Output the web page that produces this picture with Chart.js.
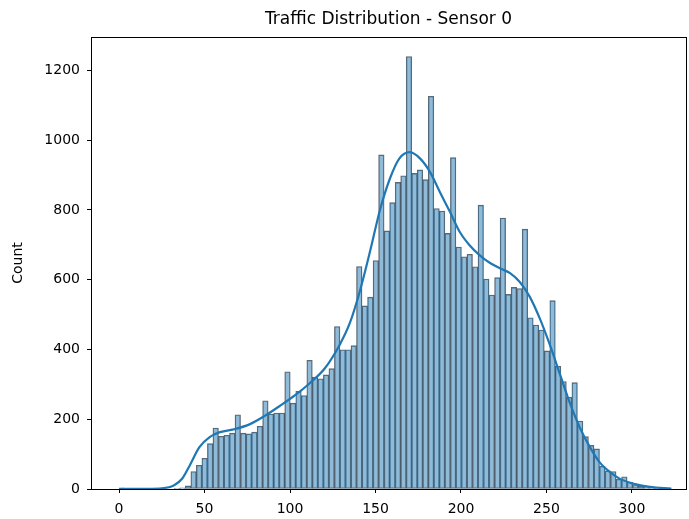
<!DOCTYPE html>
<html>
<head>
<meta charset="utf-8">
<script src="https://cdn.jsdelivr.net/npm/chart.js@4.4.1/dist/chart.umd.min.js"></script>
<style>
  html, body { margin: 0; padding: 0; background: #fff; }
  #wrap { width: 689px; height: 519px; }
</style>
</head>
<body>
<div id="wrap"><canvas id="histChart" width="689" height="519"></canvas></div>
<script>
// Histogram bins (100 bins, 0 .. ~323)
const binStart = 0;
const binWidth = 3.23;
const binCounts = [
  3, 0, 0, 0, 0, 0, 0, 0, 0, 0,
  1, 3, 9, 50, 68, 88, 130, 175, 151, 154,
  160, 213, 160, 158, 163, 180, 253, 215, 218, 218,
  336, 246, 280, 268, 369, 321, 316, 327, 345, 466,
  399, 399, 411, 638, 525, 550, 655, 958, 740, 821,
  879, 898, 1240, 905, 915, 887, 1126, 804, 797, 733,
  950, 694, 666, 673, 637, 814, 602, 556, 606, 777,
  558, 578, 575, 745, 491, 470, 456, 396, 540, 352,
  308, 263, 305, 195, 150, 125, 115, 65, 52, 50,
  28, 35, 20, 12, 8, 5, 3, 2, 1, 1
];

// KDE curve
const kdeX = [0, 15, 25, 32, 37, 41.5, 47, 53, 59, 68, 76.6, 85, 94, 103, 111.7, 120.5, 129, 135, 141, 147, 152.6, 158.5, 164, 170, 176, 182, 187.7, 193.6, 199.4, 205, 211, 217, 222.8, 228.7, 234.5, 240, 246, 252, 258, 263.7, 269.6, 275.4, 281, 287, 293, 301.8, 310.5, 323];
const kdeY = [0, 0.5, 2, 10, 30, 69, 120, 149, 163, 172, 186, 209, 238, 269, 304, 347, 413, 476, 570, 685, 800, 891, 948, 966, 948, 908, 851, 794, 736, 699, 670, 648, 633, 619, 593, 553, 490, 413, 327, 246, 175, 120, 77, 49, 29, 14, 6, 1];

const xTicks = [0, 50, 100, 150, 200, 250, 300];
const yTicks = [0, 200, 400, 600, 800, 1000, 1200];
const chartTitle = 'Traffic Distribution - Sensor 0';

const barPoints = binCounts.map((c, i) => ({ x: binStart + binWidth * (i + 0.5), y: c }));
const kdePoints = kdeX.map((x, i) => ({ x: x, y: kdeY[i] }));

// axes frame + title centred over the plot area (matplotlib style)
const frameBox = {
  id: 'frameBox',
  afterDraw(chart) {
    const a = chart.chartArea;
    const ctx = chart.ctx;
    ctx.save();
    ctx.strokeStyle = '#000';
    ctx.lineWidth = 1;
    ctx.strokeRect(Math.round(a.left) + 0.5, Math.round(a.top) + 0.5,
      Math.round(a.right - a.left), Math.round(a.bottom - a.top));
    ctx.fillStyle = '#000';
    ctx.font = '17px "DejaVu Sans"';
    ctx.textAlign = 'center';
    ctx.textBaseline = 'middle';
    ctx.fillText(chartTitle, (a.left + a.right) / 2, 20);
    ctx.restore();
  }
};

const ctx = document.getElementById('histChart').getContext('2d');
new Chart(ctx, {
  data: {
    datasets: [
      {
        type: 'line',
        data: kdePoints,
        borderColor: '#1f77b4',
        borderWidth: 2.2,
        pointRadius: 0,
        fill: false,
        cubicInterpolationMode: 'monotone',
        order: 0
      },
      {
        type: 'bar',
        data: barPoints,
        backgroundColor: 'rgba(31, 119, 180, 0.5)',
        borderColor: 'rgba(45, 55, 65, 0.75)',
        borderWidth: 0.7,
        borderSkipped: false,
        barPercentage: 1.0,
        categoryPercentage: 1.0,
        order: 1
      }
    ]
  },
  options: {
    responsive: false,
    animation: false,
    events: [],
    layout: { padding: { left: 0, right: 3, top: 37, bottom: 0 } },
    plugins: {
      legend: { display: false },
      tooltip: { enabled: false },
      title: { display: false }
    },
    scales: {
      x: {
        type: 'linear',
        min: -16.4,
        max: 331.6,
        offset: false,
        grid: { display: true, offset: false, drawOnChartArea: false, drawTicks: true, tickLength: 4, color: '#000' },
        border: { display: true, color: '#000' },
        ticks: {
          color: '#000', font: { family: 'DejaVu Sans', size: 14 }, padding: 8, maxRotation: 0,
          callback: v => String(v)
        },
        afterBuildTicks: s => { s.ticks = xTicks.map(v => ({ value: v })); },
        afterFit: s => { s.height = 30; }
      },
      y: {
        min: 0,
        max: 1296,
        grid: { display: true, offset: false, drawOnChartArea: false, drawTicks: true, tickLength: 4, color: '#000' },
        border: { display: true, color: '#000' },
        ticks: {
          color: '#000', font: { family: 'DejaVu Sans', size: 14 }, padding: 7,
          callback: v => String(v)
        },
        title: {
          display: true,
          text: 'Count',
          color: '#000',
          font: { family: 'DejaVu Sans', size: 14 },
          padding: { top: 10, bottom: 0 }
        },
        afterBuildTicks: s => { s.ticks = yTicks.map(v => ({ value: v })); },
        afterFit: s => { s.width = 91; }
      }
    }
  },
  plugins: [frameBox]
});
</script>
</body>
</html>
